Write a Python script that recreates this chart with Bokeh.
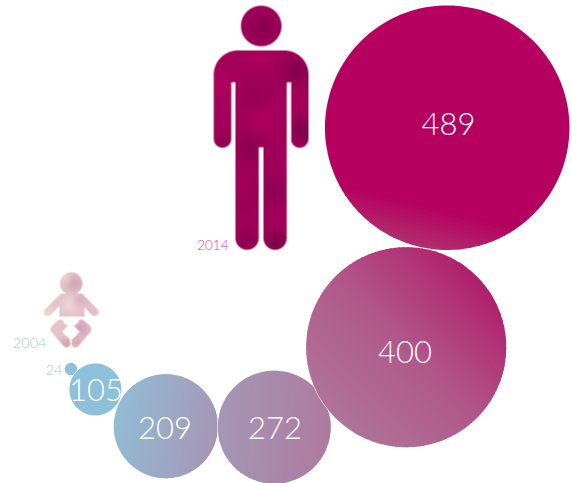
import numpy as np
from bokeh.core.properties import value
from bokeh.embed import file_html
from bokeh.models import ColumnDataSource, Range1d
from bokeh.plotting import figure
from bokeh.resources import INLINE

WIDTH, HEIGHT = 572, 483
FONT = "Lato Light"

# Chart data
values = [24, 105, 209, 272, 400, 489]
value_labels = ["", "105", "209", "272", "400", "489"]
year_labels = ["2004", "24", "2014"]

# Layout, in page pixels with y measured from the top
centre_x = [70.5, 94.9, 165.3, 273.7, 405.7, 446.7]
centre_y = [368.5, 389.0, 425.7, 426.7, 346.7, 127.2]
radius_per_unit = 0.25
radius_scale = [1.03, 0.99, 0.995, 0.83, 1.0, 1.0]
label_x = [0, 95.5, 164.5, 274.5, 404.5, 448]
label_y = [0, 389.5, 427.5, 427.5, 351.5, 123]

# Gradient of each bubble: screen direction and colour stops (position 0..1, colour)
gradients = [
    ((1, 0), [(0, "#8fc0d9"), (1, "#8fc0d9")]),
    ((1, 0), [(0, "#8fc0d9"), (1, "#8fc0d9")]),
    ((1, 0.2), [(0, "#92bcd5"), (1, "#a696b5")]),
    ((1, 0.05), [(0, "#a597b6"), (1, "#ae7a9f")]),
    ((0.72, -0.7), [(0, "#ae7399"), (0.5, "#b1588a"), (1, "#b11f6d")]),
    ((-0.25, 1), [(0, "#b5005f"), (0.83, "#b5005f"), (1, "#b0306f")]),
]


def to_y(py):
    return HEIGHT - np.asarray(py, dtype=float)


def hex_rgb(code):
    return np.array([int(code[i:i + 2], 16) for i in (1, 3, 5)], dtype=float)


def stop_colour(stops, t):
    for (t0, c0), (t1, c1) in zip(stops, stops[1:]):
        if t <= t1:
            f = 0 if t1 == t0 else (t - t0) / (t1 - t0)
            rgb = hex_rgb(c0) * (1 - f) + hex_rgb(c1) * f
            return "#%02x%02x%02x" % tuple(int(round(v)) for v in rgb)
    return stops[-1][1]


def gradient_strips(cx, cy, r, direction, stops, steps=60):
    """Bands across a circle along a direction; neighbours overlap to hide seams."""
    d = np.array(direction, dtype=float)
    d /= np.hypot(*d)
    n = np.array([-d[1], d[0]])
    bands = []
    for i in range(steps):
        colour = stop_colour(stops, (i + 0.5) / steps)
        if bands and bands[-1][2] == colour:
            bands[-1][1] = (i + 1) / steps
        else:
            bands.append([i / steps, (i + 1) / steps, colour])
    xs, ys, colours = [], [], []
    overlap = 0.8 / r
    for t0, t1, colour in bands:
        t1 = min(1.0, t1 + overlap)
        a0 = np.arccos(np.clip(2 * t0 - 1, -1, 1))
        a1 = np.arccos(np.clip(2 * t1 - 1, -1, 1))
        phi = np.concatenate([np.linspace(a1, a0, 60), np.linspace(-a0, -a1, 60)])
        xs.append(cx + r * (np.cos(phi) * d[0] + np.sin(phi) * n[0]))
        ys.append(to_y(cy + r * (np.cos(phi) * d[1] + np.sin(phi) * n[1])))
        colours.append(colour)
    return xs, ys, colours


# Icon masks, supersampled and reduced for soft edges
SS = 4


def grid(x0, y0, x1, y1):
    xx = (np.arange((x1 - x0) * SS) + 0.5) / SS + x0
    yy = (np.arange((y1 - y0) * SS) + 0.5) / SS + y0
    return np.meshgrid(xx, yy)


def in_circle(X, Y, cx, cy, r):
    return (X - cx) ** 2 + (Y - cy) ** 2 <= r * r


def in_capsule(X, Y, x0, y0, x1, y1, r):
    dx, dy = x1 - x0, y1 - y0
    t = np.clip(((X - x0) * dx + (Y - y0) * dy) / (dx * dx + dy * dy), 0, 1)
    return (X - x0 - t * dx) ** 2 + (Y - y0 - t * dy) ** 2 <= r * r


def in_rect(X, Y, x0, y0, x1, y1):
    return (X >= x0) & (X <= x1) & (Y >= y0) & (Y <= y1)


def in_polygon(X, Y, pts):
    inside = np.zeros_like(X, dtype=bool)
    for (ax, ay), (bx, by) in zip(pts, pts[1:] + pts[:1]):
        crosses = (ay > Y) != (by > Y)
        with np.errstate(divide="ignore", invalid="ignore"):
            at = ax + (Y - ay) * (bx - ax) / (by - ay)
        inside ^= crosses & (X < at)
    return inside


def reduce_mask(mask):
    h, w = mask.shape
    return mask.reshape(h // SS, SS, w // SS, SS).mean(axis=(1, 3))


def shaded_image(mask, x0, y0, base, blobs):
    h, w = mask.shape
    px = np.arange(w) + 0.5 + x0
    py = np.arange(h) + 0.5 + y0
    X, Y = np.meshgrid(px, py)
    rgb = np.ones((h, w, 3)) * hex_rgb(base)
    for bx, by, sigma, colour, strength in blobs:
        a = strength * np.exp(-((X - bx) ** 2 + (Y - by) ** 2) / (2 * sigma ** 2))
        rgb = rgb * (1 - a[..., None]) + hex_rgb(colour) * a[..., None]
    out = np.zeros((h, w), dtype=np.uint32)
    view = out.view(dtype=np.uint8).reshape((h, w, 4))
    view[..., :3] = np.clip(rgb, 0, 255).astype(np.uint8)
    view[..., 3] = (mask * 255).astype(np.uint8)
    return out[::-1]


# Adult figure
ax0, ay0, ax1, ay1 = 205, 0, 316, 256
X, Y = grid(ax0, ay0, ax1, ay1)
adult = in_circle(X, Y, 260.7, 25.5, 20.3)
adult |= in_capsule(X, Y, 237.3, 74, 284, 74, 24) & (Y >= 50)
adult |= in_capsule(X, Y, 222, 75, 222, 138.5, 8.7)
adult |= in_capsule(X, Y, 299.2, 75, 299.2, 138.5, 8.7)
adult |= in_rect(X, Y, 235, 60, 286.3, 147)
adult |= in_capsule(X, Y, 246.6, 120, 246.6, 237.7, 11.6)
adult |= in_capsule(X, Y, 274.6, 120, 274.6, 237.7, 11.6)
adult &= ~in_rect(X, Y, 230.7, 81.7, 235, 160)
adult &= ~in_rect(X, Y, 286.3, 81.7, 290.7, 160)
adult &= ~in_rect(X, Y, 258.3, 146.7, 262.9, 260)
adult_img = shaded_image(
    reduce_mask(adult), ax0, ay0, "#a30059",
    [
        (262, 28, 11, "#85004c", 0.8),
        (296, 70, 10, "#80004a", 0.8),
        (303, 130, 9, "#7a0046", 0.85),
        (256, 95, 12, "#8f0052", 0.55),
        (250, 146, 11, "#85004c", 0.75),
        (272, 190, 11, "#88004d", 0.7),
        (243, 205, 8, "#8f0052", 0.5),
        (246, 240, 8, "#85004c", 0.7),
        (275, 242, 8, "#7a0046", 0.9),
        (222, 142, 6, "#88004d", 0.7),
        (222, 85, 9, "#b4005f", 0.8),
        (262, 122, 10, "#b4005f", 0.7),
        (260, 60, 10, "#b4005f", 0.6),
        (280, 110, 8, "#ab005c", 0.6),
        (300, 100, 6, "#ab005c", 0.5),
    ],
)

# Infant figure
bx0, by0, bx1, by1 = 40, 268, 102, 350
X, Y = grid(bx0, by0, bx1, by1)
infant = in_circle(X, Y, 70.7, 283, 11.3)
infant |= in_polygon(X, Y, [(64, 293), (78, 293), (84, 296), (84, 316), (59, 316), (59, 296)])
infant |= in_capsule(X, Y, 62, 297, 47.5, 311.5, 4)
infant |= in_capsule(X, Y, 80, 297, 94, 311.5, 4)
infant |= in_capsule(X, Y, 54, 329, 66, 343, 4) | in_capsule(X, Y, 54.5, 327, 60, 322.5, 3.5)
infant |= in_polygon(X, Y, [(59, 320), (67.3, 325.3), (61.7, 331.3), (70, 339.7), (64, 346.3), (50.7, 329.7)])
infant |= in_capsule(X, Y, 87, 329, 75, 343, 4) | in_capsule(X, Y, 86.5, 327, 81, 322.5, 3.5)
infant |= in_polygon(X, Y, [(81.7, 320), (90, 329.7), (76.7, 346.3), (70.7, 339.7), (79.3, 331.3), (73.3, 325.3)])
infant &= ~in_polygon(X, Y, [(67.3, 325.3), (73.3, 325.3), (79.3, 331.3), (70.5, 339.7), (61.7, 331.3)])
infant_img = shaded_image(
    reduce_mask(infant), bx0, by0, "#e4c2cb",
    [
        (74, 283, 6, "#cfa3b3", 0.85),
        (64, 277, 4, "#ead5d7", 0.8),
        (70, 304, 6, "#f0dbde", 0.85),
        (80, 300, 5, "#d9aebf", 0.8),
        (48, 312, 5, "#eed4d0", 0.95),
        (92, 312, 5, "#e2bcc7", 0.7),
        (60, 330, 6, "#e7c6c8", 0.8),
        (66, 343, 4, "#cf9fae", 0.8),
        (80, 328, 6, "#d89fba", 0.95),
        (76, 342, 4, "#d9a9b8", 0.85),
    ],
)

p = figure(
    width=WIDTH, height=HEIGHT, output_backend="svg", toolbar_location=None,
    x_range=Range1d(0, WIDTH), y_range=Range1d(0, HEIGHT),
    min_border=0, outline_line_color=None, background_fill_color="white",
    border_fill_color="white",
)
p.axis.visible = False
p.grid.visible = False

p.image_rgba(image=[adult_img], x=ax0, y=HEIGHT - ay1, dw=ax1 - ax0, dh=ay1 - ay0)
p.image_rgba(image=[infant_img], x=bx0, y=HEIGHT - by1, dw=bx1 - bx0, dh=by1 - by0)

# Bubbles, smallest first so that each larger one sits on top
for v, scale, cx, cy, (direction, stops) in zip(values, radius_scale, centre_x, centre_y, gradients):
    r = v * radius_per_unit * scale
    if v > 24:
        p.circle(x=[cx], y=[HEIGHT - cy], radius=r + 0.6, fill_color="white", line_color=None)
    xs, ys, colours = gradient_strips(cx, cy, r, direction, stops)
    p.patches(xs, ys, fill_color=colours, line_color=None)

labels = ColumnDataSource(dict(
    x=label_x[1:], y=to_y(label_y[1:]), text=value_labels[1:],
))
p.text(
    x="x", y="y", text="text", source=labels, text_color="white",
    text_font=value(FONT), text_font_size="31px",
    text_align="center", text_baseline="middle",
)

p.text(x=[46], y=to_y([342]), text=[year_labels[0]], text_color="#9cc8df",
       text_font=value(FONT), text_font_size="14.5px", text_align="right", text_baseline="middle")
p.text(x=[62], y=to_y([369]), text=[year_labels[1]], text_color="#9cc8df",
       text_font=value(FONT), text_font_size="14.5px", text_align="right", text_baseline="middle")
p.text(x=[228], y=to_y([244.5]), text=[year_labels[2]], text_color="#d63a88",
       text_font=value(FONT), text_font_size="13.5px", text_align="right", text_baseline="middle")

open("out.html", "w").write(file_html(p, INLINE))
